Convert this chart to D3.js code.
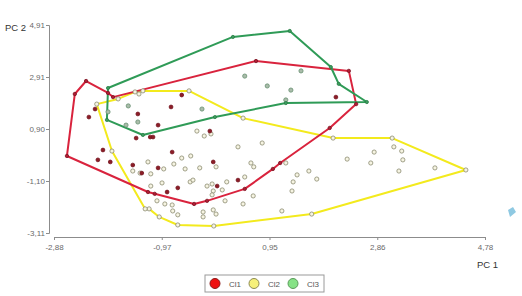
<!DOCTYPE html>
<html>
<head>
<meta charset="utf-8">
<script src="https://cdn.jsdelivr.net/npm/d3@7"></script>
<style>
  body { margin: 0; background: #fff; }
  svg { display: block; font-family: "Liberation Sans", Arial, sans-serif; }
  .axis path, .axis line { stroke: #8c8c8c; }
  .axis text { fill: #6a6a6a; font-size: 8px; }
</style>
</head>
<body>
<div id="chart"></div>
<script>
var svgWidth = 522;
var svgHeight = 296;

// axis ticks (values and the labels as printed, with decimal comma)
var xTicks = [-2.88, -0.965, 0.95, 2.865, 4.78];
var xTickLabels = ["-2,88", "-0,97", "0,95", "2,86", "4,78"];
var yTicks = [4.91, 2.905, 0.90, -1.105, -3.11];
var yTickLabels = ["4,91", "2,91", "0,90", "-1,10", "-3,11"];

var clusterNames = ["Cl1", "Cl2", "Cl3"];

// Cl1 : outline vertices (in drawing order) and inner points, [PC1, PC2]
var cl1Hull = [[-2.65,-0.14],[-2.51,2.25],[-2.31,2.75],[-1.92,2.29],[-1.83,2.13],[0.71,3.52],
  [2.36,3.14],[2.49,1.86],[2.02,0.94],[1.14,-0.41],[1.01,-0.64],[0.51,-1.41],[-0.16,-1.87],
  [-0.39,-1.99],[-1.09,-1.60],[-1.21,-1.53]];
var cl1Points = [[-2.15,1.67],[-2.26,1.36],[-1.39,1.48],[-0.80,1.75],[-1.03,1.05],[-0.61,2.21],
  [-1.42,0.55],[-1.17,0.59],[-1.12,0.59],[-2.01,0.09],[-2.10,-0.29],[-1.88,-0.37],[-0.78,0.01],
  [-1.48,-0.49],[-1.32,-0.80],[-1.03,-0.60],[-0.68,-1.37],[-0.87,-1.53],[-0.05,-0.37],
  [0.02,-1.30],[0.39,-1.07],[-0.11,0.82],[2.13,2.13]];

// Cl2
var cl2Hull = [[-2.12,1.86],[-1.74,2.06],[-1.44,2.33],[-1.30,2.37],[-0.48,2.37],[0.48,1.32],
  [2.08,0.55],[3.13,0.55],[4.44,-0.68],[1.70,-2.38],[-0.04,-2.84],[-0.68,-2.80],[-1.01,-2.49],
  [-1.19,-2.18],[-1.26,-2.18],[-1.85,0.05]];
var cl2Points = [[-1.37,2.25],[-0.34,0.82],[-0.21,0.63],[-0.09,0.71],[-0.61,-0.22],[-0.45,-0.14],
  [-1.21,-0.37],[-1.48,-0.72],[-1.35,-0.80],[-1.16,-0.83],[-0.93,-0.64],[-0.75,-0.45],[-0.55,-0.64],
  [-0.29,-0.60],[-0.46,-1.14],[-0.41,-1.07],[-1.16,-1.30],[-0.96,-1.18],[-1.05,-1.87],[-0.91,-1.99],
  [-0.78,-2.03],[-0.77,-2.26],[-0.68,-2.41],[-0.23,-2.30],[-0.23,-2.49],[-0.05,-2.22],[0.00,-2.38],
  [-0.16,-1.30],[-0.07,-1.22],[-0.05,-1.49],[0.00,-0.56],[0.19,-1.14],[0.11,-1.45],[-0.07,-1.64],
  [0.16,-1.87],[0.48,-1.99],[0.66,-1.68],[0.51,-0.95],[0.62,-0.41],[0.67,-0.56],[0.39,0.21],
  [0.82,0.36],[1.24,-0.41],[1.37,-1.14],[1.44,-0.87],[1.65,-0.72],[1.79,-1.03],[1.35,-1.49],
  [1.17,-2.26],[2.33,-0.26],[2.81,0.01],[2.75,-0.41],[3.16,0.21],[3.30,0.05],[3.32,-0.29],
  [3.25,-0.72],[3.89,-0.60]];

// Cl3
var cl3Hull = [[-1.92,2.48],[0.30,4.45],[1.31,4.68],[2.04,3.29],[2.18,2.64],[2.68,1.94],
  [1.24,1.90],[-0.02,1.36],[-1.30,0.67],[-1.94,1.25]];
var cl3Points = [[-1.92,1.56],[-1.56,1.79],[-1.39,1.17],[-1.60,1.05],[-0.25,1.67],[0.51,2.94],
  [0.91,2.56],[1.33,2.40],[1.51,3.14],[1.24,2.02]];

var hullColors = ["#d9233d", "#f3ea1d", "#2f9b57"];
var legendFills = ["#ee1111", "#f6f07a", "#86e286"];
var legendStrokes = ["#8a1a1a", "#8c8a55", "#5a9a5a"];

var svg = d3.select("#chart")
  .append("svg")
  .attr("width", svgWidth)
  .attr("height", svgHeight);

var xScale = d3.scaleLinear().domain([-2.88, 4.78]).range([54, 485]);
var yScale = d3.scaleLinear().domain([-3.11, 4.91]).range([233, 25]);

// axes
var yAxis = svg.append("g")
  .attr("class", "axis")
  .attr("transform", "translate(49,0)")
  .call(d3.axisLeft(yScale).tickValues(yTicks)
    .tickFormat((d, i) => yTickLabels[i]).tickSizeOuter(0).tickSize(3).tickPadding(1));

var xAxis = svg.append("g")
  .attr("class", "axis")
  .attr("transform", "translate(0,237)")
  .call(d3.axisBottom(xScale).tickValues(xTicks)
    .tickFormat((d, i) => xTickLabels[i]).tickSizeOuter(0).tickSize(3).tickPadding(4));

svg.append("text")
  .attr("x", 5).attr("y", 31)
  .style("font-size", "9.5px").style("fill", "#333")
  .text("PC 2");

svg.append("text")
  .attr("x", 477).attr("y", 268)
  .style("font-size", "9.5px").style("fill", "#333")
  .text("PC 1");

// cluster outlines
var hullLine = d3.line()
  .x(d => xScale(d[0]))
  .y(d => yScale(d[1]))
  .curve(d3.curveLinearClosed);

var hulls = [cl2Hull, cl1Hull, cl3Hull];
var hullIdx = [1, 0, 2];
hulls.forEach(function(h, i) {
  svg.append("path")
    .attr("d", hullLine(h))
    .attr("fill", "none")
    .attr("stroke", hullColors[hullIdx[i]])
    .attr("stroke-width", 2)
    .attr("stroke-linejoin", "round");
});

// points
function drawPoints(data, fill, stroke, r) {
  svg.append("g").selectAll("circle")
    .data(data)
    .enter()
    .append("circle")
    .attr("cx", d => xScale(d[0]))
    .attr("cy", d => yScale(d[1]))
    .attr("r", r)
    .attr("fill", fill)
    .attr("stroke", stroke)
    .attr("stroke-width", 0.8);
}

drawPoints(cl2Points, "#f6f4e2", "#8a8a70", 2.1);
drawPoints(cl2Hull, "#f6f4e2", "#8a8a70", 2.1);
drawPoints(cl3Points, "#aabcaa", "#668f70", 2.1);
drawPoints(cl3Hull, "#3d9d5e", "#2a7c46", 1.6);
drawPoints(cl1Points, "#8c1c26", "#741420", 1.9);
drawPoints(cl1Hull, "#b01c34", "#7c1422", 1.7);

// legend
var legend = svg.append("g").attr("transform", "translate(205,275)");
legend.append("rect")
  .attr("width", 119).attr("height", 17)
  .attr("fill", "#fff")
  .attr("stroke", "#9a9a9a");

var legendX = [10, 49, 88];
clusterNames.forEach(function(name, i) {
  legend.append("circle")
    .attr("cx", legendX[i]).attr("cy", 8.5).attr("r", 5)
    .attr("fill", legendFills[i])
    .attr("stroke", legendStrokes[i]);
  legend.append("text")
    .attr("x", legendX[i] + 14).attr("y", 11.5)
    .style("font-size", "8px").style("fill", "#555")
    .text(name);
});

// small light-blue marker at the right edge
svg.append("path")
  .attr("d", "M508,210 L513,207 L516,212 L510,217 Z")
  .attr("fill", "#8fc9e2");
</script>
</body>
</html>
